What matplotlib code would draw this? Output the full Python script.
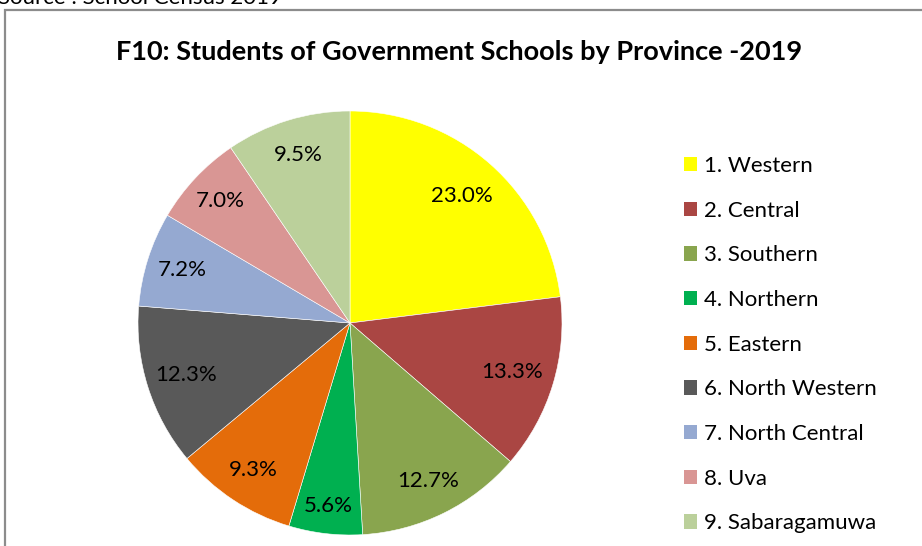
import matplotlib
matplotlib.use('Agg')
import matplotlib.pyplot as plt
from matplotlib.patches import Rectangle
import numpy as np

plt.rcParams['font.family'] = ['Lato', 'DejaVu Sans']

provinces = ['1. Western', '2. Central', '3. Southern', '4. Northern', '5. Eastern',
             '6. North Western', '7. North Central', '8. Uva', '9. Sabaragamuwa']
shares = [23.0, 13.3, 12.7, 5.6, 9.3, 12.3, 7.2, 7.0, 9.5]
colors = ['#FFFF00', '#AA4643', '#89A54E', '#00B050', '#E46C0A',
          '#595959', '#95A9D1', '#D99694', '#BBD09B']
pct_dist = [0.80, 0.80, 0.83, 0.87, 0.83, 0.81, 0.83, 0.84, 0.83]

W, H = 922, 546
fig = plt.figure(figsize=(W / 100, H / 100), dpi=100)

# outer chart border (cut off on right and bottom)
fig.patches.append(Rectangle((5 / W, -0.1), 1.2, 1 - 10 / H + 0.1,
                             transform=fig.transFigure, fill=False,
                             edgecolor='#8C8C8C', lw=1.6, clip_on=False))

fig.text(-2 / W, 1 - 4 / H, 'Source : School Census 2019', fontsize=16,
         va='baseline', ha='left', color='black')

fig.text(459 / W, 1 - 52 / H, 'F10: Students of Government Schools by Province -2019',
         fontsize=19.5, fontweight='bold', ha='center', va='center')

cx, cy, r = 350, 323, 212
ax = fig.add_axes([(cx - r) / W, (H - cy - r) / H, 2 * r / W, 2 * r / H])
wedges, _ = ax.pie(shares, colors=colors, startangle=90, counterclock=False,
                   wedgeprops=dict(edgecolor='white', linewidth=0.4))
ax.set_xlim(-1, 1)
ax.set_ylim(-1, 1)
ax.set_aspect('equal')
ax.axis('off')

for w, v, d in zip(wedges, shares, pct_dist):
    ang = np.deg2rad((w.theta1 + w.theta2) / 2)
    ax.text(d * np.cos(ang), d * np.sin(ang), f'{v:.1f}%', ha='center', va='center',
            fontsize=16, color='black')

handles = [Rectangle((0, 0), 1, 1, facecolor=c, edgecolor='none') for c in colors]
fig.legend(handles, provinces, loc='upper left', bbox_to_anchor=(684 / W, 1 - 156 / H),
           frameon=False, fontsize=16, handlelength=0.6, handleheight=0.6,
           handletextpad=0.32, labelspacing=1.11, borderpad=0, borderaxespad=0)

fig.savefig('out.png', dpi=100)
